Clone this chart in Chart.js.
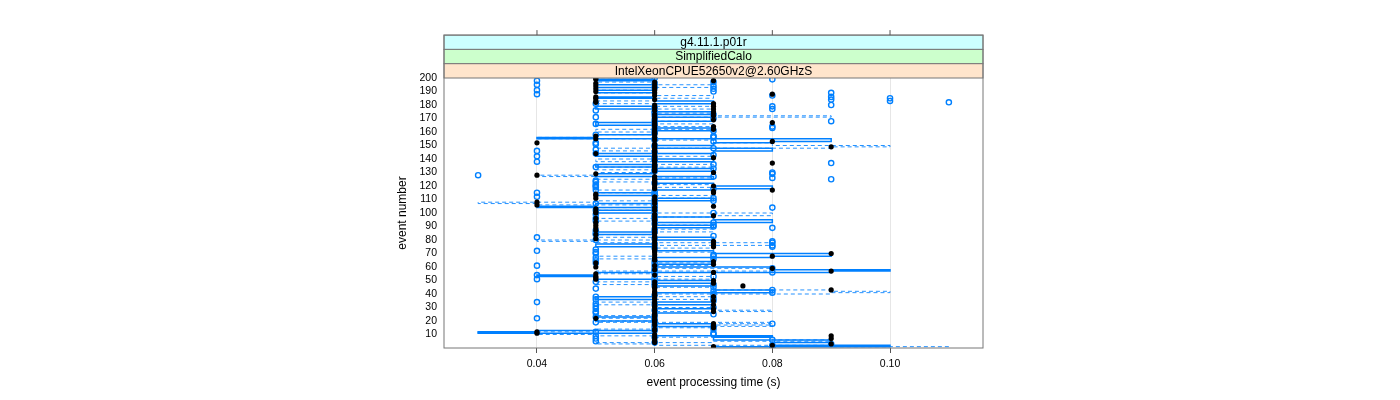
<!DOCTYPE html>
<html lang="en">
<head>
<meta charset="UTF-8">
<title>event processing time</title>
<script src="https://cdn.jsdelivr.net/npm/chart.js"></script>
<style>
  html, body { margin: 0; padding: 0; background: #fff; }
  #wrap { width: 1400px; height: 400px; }
</style>
</head>
<body>
<div id="wrap"><canvas id="chart" width="1400" height="400"></canvas></div>
<script>
// event numbers 1..200 (y axis)
const events = Array.from({ length: 200 }, (_, i) => i + 1);

// per-event processing times in ms (event 1 first)
const blackMs = [
  70, 80, 90, 60, 60, 60, 90, 60, 90, 60,
  40, 40, 60, 60, 70, 70, 60, 70, 60, 60,
  60, 50, 60, 60, 60, 60, 70, 60, 70, 60,
  60, 70, 60, 60, 70, 60, 60, 70, 60, 60,
  60, 60, 90, 60, 60, 75, 60, 70, 60, 70,
  50, 50, 50, 60, 50, 70, 90, 60, 80, 50,
  60, 70, 50, 70, 60, 60, 60, 80, 60, 90,
  60, 60, 60, 60, 70, 60, 70, 60, 70, 60,
  50, 60, 60, 50, 60, 60, 50, 60, 50, 60,
  50, 60, 50, 60, 60, 50, 60, 70, 60, 50,
  50, 60, 50, 60, 70, 40, 60, 40, 60, 60,
  50, 60, 50, 50, 70, 70, 80, 60, 60, 70,
  60, 60, 60, 60, 60, 60, 60, 40, 50, 70,
  60, 60, 60, 60, 60, 60, 80, 60, 60, 60,
  70, 60, 60, 50, 60, 60, 60, 60, 90, 60,
  60, 40, 80, 60, 50, 60, 50, 60, 60, 60,
  60, 70, 60, 70, 60, 60, 80, 60, 70, 60,
  60, 70, 60, 70, 70, 60, 70, 60, 70, 60,
  70, 50, 50, 60, 50, 50, 60, 80, 60, 50,
  60, 50, 60, 50, 60, 50, 60, 70, 50, 50
];

const blueMs = [
  80, 80, 90, 60, 50, 80, 50, 60, 50, 70,
  70, 50, 60, 70, 60, 70, 60, 80, 50, 60,
  60, 40, 50, 60, 70, 50, 50, 60, 50, 70,
  50, 60, 50, 40, 70, 50, 70, 50, 60, 70,
  80, 70, 80, 50, 70, 60, 70, 60, 50, 60,
  40, 60, 70, 40, 60, 80, 60, 60, 80, 60,
  40, 60, 50, 60, 50, 70, 50, 70, 70, 50,
  50, 40, 50, 60, 80, 80, 60, 80, 80, 50,
  60, 40, 70, 50, 50, 60, 50, 60, 80, 70,
  70, 60, 70, 50, 60, 50, 60, 60, 50, 70,
  60, 50, 60, 80, 60, 60, 50, 60, 70, 60,
  70, 40, 60, 60, 40, 60, 50, 70, 50, 50,
  50, 60, 50, 50, 90, 80, 70, 30, 80, 80,
  60, 60, 70, 50, 60, 70, 90, 40, 60, 60,
  60, 40, 70, 50, 60, 40, 50, 70, 60, 60,
  50, 50, 70, 60, 60, 70, 70, 50, 60, 60,
  70, 60, 80, 80, 60, 50, 60, 90, 60, 70,
  50, 60, 70, 60, 60, 50, 80, 60, 80, 90,
  50, 110, 100, 90, 100, 90, 80, 40, 90, 70,
  40, 70, 60, 70, 40, 60, 70, 40, 80, 60
];

// step lines (solid and dashed), ms per event
const solidMs = [
  70, 100, 80, 80, 90, 90, 70, 70, 80, 60,
  60, 30, 40, 60, 60, 60, 70, 70, 60, 60,
  50, 50, 50, 60, 60, 60, 70, 70, 70, 60,
  60, 60, 70, 70, 60, 60, 50, 50, 60, 60,
  60, 80, 80, 70, 70, 70, 60, 60, 70, 70,
  60, 50, 50, 40, 50, 50, 90, 100, 80, 80,
  60, 60, 70, 70, 60, 60, 60, 80, 90, 90,
  70, 70, 60, 60, 60, 50, 50, 60, 60, 60,
  70, 70, 60, 60, 50, 50, 60, 60, 60, 70,
  70, 60, 60, 80, 80, 70, 70, 60, 60, 60,
  50, 50, 60, 60, 40, 50, 50, 60, 60, 70,
  70, 60, 60, 50, 50, 60, 60, 70, 80, 80,
  70, 70, 60, 60, 60, 70, 70, 50, 50, 60,
  60, 70, 70, 60, 50, 50, 60, 60, 70, 70,
  60, 60, 50, 50, 70, 70, 80, 80, 60, 60,
  70, 70, 80, 90, 90, 40, 50, 50, 60, 60,
  60, 70, 70, 60, 60, 50, 50, 60, 70, 70,
  70, 60, 60, 70, 70, 60, 60, 50, 50, 60,
  60, 70, 70, 60, 60, 50, 60, 60, 60, 50,
  50, 60, 60, 50, 50, 60, 60, 60, 50, 60
];

const dashedMs = [
  110, 90, 60, 50, 70, 90, 80, 80, 60, 50,
  40, 30, 50, 50, 60, 70, 80, 70, 80, 50,
  60, 60, 50, 50, 60, 60, 60, 80, 70, 70,
  60, 60, 50, 50, 60, 60, 70, 70, 60, 60,
  90, 100, 90, 70, 70, 60, 60, 50, 50, 60,
  60, 70, 70, 60, 60, 50, 50, 80, 80, 60,
  60, 70, 70, 60, 60, 60, 50, 50, 60, 60,
  60, 70, 70, 70, 60, 60, 80, 80, 50, 40,
  60, 60, 50, 50, 60, 60, 70, 70, 60, 60,
  60, 70, 70, 60, 50, 50, 60, 70, 80, 80,
  60, 60, 50, 50, 60, 60, 40, 30, 50, 60,
  60, 70, 70, 60, 60, 50, 50, 60, 60, 70,
  70, 60, 60, 50, 50, 60, 70, 40, 50, 50,
  60, 60, 50, 50, 70, 70, 60, 60, 50, 50,
  60, 60, 70, 70, 60, 60, 50, 50, 90, 100,
  80, 80, 70, 70, 60, 40, 50, 50, 60, 60,
  50, 50, 70, 70, 60, 60, 70, 70, 60, 60,
  60, 90, 70, 70, 60, 60, 60, 70, 70, 60,
  60, 50, 50, 60, 60, 70, 70, 60, 60, 50,
  50, 60, 60, 70, 70, 60, 60, 50, 50, 60
];

const xTicks = [0.04, 0.06, 0.08, 0.10];
const yTicks = [10, 20, 30, 40, 50, 60, 70, 80, 90, 100, 110, 120, 130, 140, 150, 160, 170, 180, 190, 200];

const stripLabels = ['g4.11.1.p01r', 'SimplifiedCalo', 'IntelXeonCPUE52650v2@2.60GHzS'];
const stripColors = ['#ccffff', '#ccffcc', '#ffe5cc'];

const family = '"Liberation Sans", Arial, Helvetica, sans-serif';
const toPoints = ms => ms.map((t, i) => ({ x: t / 1000, y: events[i] }));

// strips on top of the panel, frame, and the top tick marks
const panelFrame = {
  id: 'panelFrame',
  afterDraw(chart) {
    const { ctx, chartArea: a, scales } = chart;
    const h = 14.3;
    const stripTop = a.top - h * stripLabels.length;
    ctx.save();
    ctx.lineWidth = 1;
    ctx.strokeStyle = '#777';
    stripLabels.forEach((txt, i) => {
      const top = stripTop + h * i;
      ctx.fillStyle = stripColors[i];
      ctx.fillRect(a.left, top, a.right - a.left, h);
      ctx.strokeRect(a.left, top, a.right - a.left, h);
      ctx.fillStyle = '#000';
      ctx.font = '12px ' + family;
      ctx.textAlign = 'center';
      ctx.textBaseline = 'middle';
      ctx.fillText(txt, (a.left + a.right) / 2, top + h / 2 + 0.5);
    });
    ctx.strokeRect(a.left, stripTop, a.right - a.left, a.bottom - stripTop);
    ctx.strokeStyle = '#555';
    scales.x.ticks.forEach(t => {
      const px = scales.x.getPixelForValue(t.value);
      ctx.beginPath();
      ctx.moveTo(px, stripTop);
      ctx.lineTo(px, stripTop - 5);
      ctx.stroke();
    });
    ctx.restore();
  }
};

new Chart(document.getElementById('chart'), {
  type: 'line',
  data: {
    datasets: [
      {
        label: 'black',
        data: toPoints(blackMs),
        showLine: false,
        pointRadius: 2.6,
        pointBackgroundColor: '#000',
        pointBorderWidth: 0,
        order: 1
      },
      {
        label: 'blue',
        data: toPoints(blueMs),
        showLine: false,
        pointRadius: 2.6,
        pointBorderColor: '#0080ff',
        pointBackgroundColor: 'rgba(0,0,0,0)',
        pointBorderWidth: 1.4,
        order: 2
      },
      {
        label: 'solid',
        data: toPoints(solidMs),
        stepped: true,
        pointRadius: 0,
        borderColor: '#0080ff',
        borderWidth: 1.5,
        order: 3
      },
      {
        label: 'dashed',
        data: toPoints(dashedMs),
        stepped: true,
        pointRadius: 0,
        borderColor: 'rgba(0,128,255,0.85)',
        borderWidth: 1,
        borderDash: [4, 3],
        order: 4
      }
    ]
  },
  options: {
    responsive: false,
    animation: false,
    events: [],
    layout: { padding: { left: 380, right: 417, top: 78, bottom: 0 } },
    plugins: { legend: { display: false }, tooltip: { enabled: false } },
    scales: {
      x: {
        type: 'linear',
        min: 0.0242,
        max: 0.1158,
        afterBuildTicks: s => { s.ticks = xTicks.map(v => ({ value: v })); },
        afterFit: s => { s.height = 52; },
        ticks: {
          callback: v => v.toFixed(2),
          font: { size: 10.5, family },
          color: '#000',
          padding: 5,
          maxRotation: 0,
          autoSkip: false
        },
        grid: { color: '#e6e6e6', tickColor: '#555', tickLength: 5 },
        border: { display: false },
        title: {
          display: true,
          text: 'event processing time (s)',
          font: { size: 12, family },
          color: '#000',
          padding: { top: 0, bottom: 10 }
        }
      },
      y: {
        type: 'linear',
        min: 0,
        max: 200,
        afterBuildTicks: s => { s.ticks = yTicks.map(v => ({ value: v })); },
        afterFit: s => { s.width = 64; },
        ticks: { font: { size: 10.5, family }, color: '#000', padding: 7, autoSkip: false },
        grid: { display: false, drawTicks: false },
        border: { display: false },
        title: {
          display: true,
          text: 'event number',
          font: { size: 12, family },
          color: '#000',
          padding: { top: 15, bottom: 0 }
        }
      }
    }
  },
  plugins: [panelFrame]
});
</script>
</body>
</html>
